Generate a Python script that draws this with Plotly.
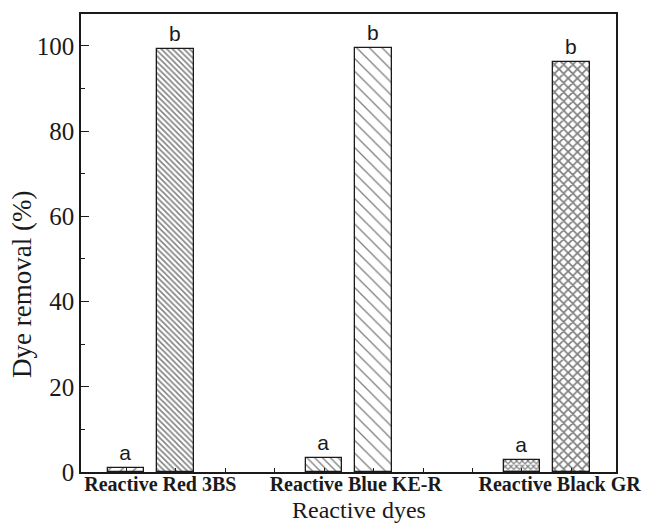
import plotly.graph_objects as go

# Dye removal (%) for the three reactive dyes, two treatments each
dyes = ["Reactive Red 3BS", "Reactive Blue KE-R", "Reactive Black GR"]
removal_a = [1.0, 3.2, 2.8]
removal_b = [99.2, 99.6, 96.3]
letters_a = ["a", "a", "a"]
letters_b = ["b", "b", "b"]

# hatch styles per bar
hatch_a = ["/", "\\", "x"]
hatch_a_size = [9, 5.5, 4]
hatch_a_solid = [0.16, 0.24, 0.5]
hatch_b = ["\\", "\\", "x"]
hatch_b_size = [4, 9, 6.5]
hatch_b_solid = [0.38, 0.14, 0.46]

slot = 4
pos_a = [slot * i + 1 for i in range(len(dyes))]
pos_b = [slot * i + 2 for i in range(len(dyes))]
label_pos = [1.69, 5.64, 9.76]
bar_w = 0.74

serif = "Liberation Serif"
sans = "Liberation Sans"
ink = "#1a1a1a"

fig = go.Figure()
for pos, vals, letters, shapes, sizes, solid in [
    (pos_a, removal_a, letters_a, hatch_a, hatch_a_size, hatch_a_solid),
    (pos_b, removal_b, letters_b, hatch_b, hatch_b_size, hatch_b_solid),
]:
    fig.add_trace(go.Bar(
        x=pos, y=vals, width=bar_w,
        text=letters, textposition="outside", cliponaxis=False,
        outsidetextfont=dict(family=sans, size=21, color=ink),
        marker=dict(
            color="white",
            line=dict(color=ink, width=1.3),
            pattern=dict(shape=shapes, size=sizes, solidity=solid,
                         fgcolor="black", bgcolor="white", fillmode="overlay"),
        ),
        showlegend=False, hoverinfo="skip",
    ))

fig.update_layout(
    width=652, height=531, autosize=False,
    margin=dict(l=81, r=24, t=13, b=59),
    plot_bgcolor="white", paper_bgcolor="white",
    bargap=0,
    xaxis=dict(
        range=[0.087, 10.9], showgrid=False, zeroline=False,
        showline=True, mirror=True, linecolor=ink, linewidth=1.5,
        tickmode="array", tickvals=label_pos, ticktext=dyes, ticks="",
        ticklabelstandoff=-7, ticklabeloverflow="allow",
        tickfont=dict(family=serif, size=20, color=ink, weight="bold"),
        minor=dict(tickmode="array", tickvals=pos_a + pos_b + [3, 4, 7, 8],
                   ticks="inside", ticklen=4, tickcolor=ink, tickwidth=1),
    ),
    yaxis=dict(
        range=[0, 107.5], showgrid=False, zeroline=False,
        showline=True, mirror=True, linecolor=ink, linewidth=1.5,
        tick0=0, dtick=20, ticks="inside", ticklen=8, tickwidth=1.3,
        tickcolor=ink,
        tickfont=dict(family=serif, size=25, color=ink),
        minor=dict(dtick=10, ticks="inside", ticklen=4, tickcolor=ink,
                   tickwidth=1),
    ),
    annotations=[
        dict(text="Reactive dyes", xref="paper", yref="paper",
             x=0.52, y=-0.083, xanchor="center", yanchor="middle",
             showarrow=False, font=dict(family=serif, size=24, color=ink)),
        dict(text="Dye removal (%)", xref="paper", yref="paper",
             x=-0.109, y=0.41, xanchor="center", yanchor="middle",
             textangle=-90, showarrow=False,
             font=dict(family=serif, size=27, color=ink)),
    ],
)

fig.write_html("out.html")
